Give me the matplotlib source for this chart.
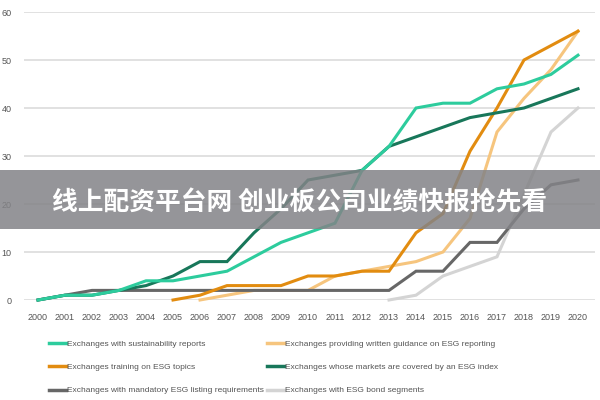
import matplotlib.pyplot as plt
import numpy as np
from matplotlib.patches import Rectangle

years = list(range(2000, 2021))
nan = np.nan

# values
sustainability = [0, 1, 1, 2, 4, 4, 5, 6, 9, 12, 14, 16, 27, 32, 40, 41, 41, 44, 45, 47, 51]
guidance = [nan, nan, nan, nan, nan, nan, 0, 1, 2, 2, 2, 5, 6, 7, 8, 10, 17, 35, 42, 48, 56]
training = [nan, nan, nan, nan, nan, 0, 1, 3, 3, 3, 5, 5, 6, 6, 14, 18, 31, 40, 50, 53, 56]
esg_index = [0, 1, 1, 2, 3, 5, 8, 8, 14, 19, 25, 26, 27, 32, 34, 36, 38, 39, 40, 42, 44]
mandatory = [0, 1, 2, 2, 2, 2, 2, 2, 2, 2, 2, 2, 2, 2, 6, 6, 12, 12, 19, 24, 25]
bonds = [nan, nan, nan, nan, nan, nan, nan, nan, nan, nan, nan, nan, nan, 0, 1, 5, 7, 9, 22, 35, 40]

series = [
    ("Exchanges with sustainability reports", sustainability, "#2dcc9d"),
    ("Exchanges training on ESG topics", training, "#e28c10"),
    ("Exchanges with mandatory ESG listing requirements", mandatory, "#676767"),
    ("Exchanges providing written guidance on ESG reporting", guidance, "#f6c57e"),
    ("Exchanges whose markets are covered by an ESG index", esg_index, "#18775a"),
    ("Exchanges with ESG bond segments", bonds, "#d4d4d4"),
]
draw_order = [5, 3, 2, 1, 4, 0]

banner_text = "线上配资平台网 创业板公司业绩快报抢先看"

narrow = ["Liberation Sans Narrow", "Liberation Sans", "DejaVu Sans"]

fig = plt.figure(figsize=(6, 4), dpi=100)
ax = fig.add_axes([24 / 600, 0.25, 571 / 600, 0.72])

lines = {}
for i in draw_order:
    label, vals, color = series[i]
    (ln,) = ax.plot(years, vals, color=color, lw=2.2, label=label, clip_on=False,
                    solid_joinstyle="miter", zorder=3)
    lines[i] = ln

ax.set_xlim(1999.48, 2020.63)
ax.set_ylim(0, 60)
ax.set_xticks(years)
ax.set_yticks(range(0, 61, 10))
ax.grid(axis="y", color="#dcdcdc", lw=1.2, zorder=0)
ax.set_axisbelow(True)
for s in ax.spines.values():
    s.set_visible(False)
ax.tick_params(length=0, labelsize=6.5, colors="#555555")
ax.tick_params(axis="x", pad=9)
ax.tick_params(axis="y", pad=9)
for t in ax.get_xticklabels() + ax.get_yticklabels():
    t.set_family(narrow)

# legend: two columns placed separately
for col, x0 in ((0, 45), (1, 263)):
    idx = [col * 3 + k for k in range(3)]
    leg = fig.legend([lines[i] for i in idx], [series[i][0] for i in idx],
                     loc="upper left", bbox_to_anchor=(x0 / 600, 1 - 336 / 400),
                     frameon=False, handlelength=2.0, handletextpad=0.15,
                     labelspacing=1.85, borderpad=0,
                     prop={"family": narrow, "size": 6})
    for t in leg.get_texts():
        t.set_color("#555555")
    for h in leg.get_lines():
        h.set_linewidth(2.5)

# grey banner with the overlay text
fig.patches.append(Rectangle((0, 1 - 229 / 400), 1, 59 / 400, transform=fig.transFigure,
                             facecolor="#838387", alpha=0.85, zorder=10))
fig.text(0.5, 1 - 203 / 400, banner_text, color="white", fontsize=18.5, fontweight="bold",
         ha="center", va="center", family=["Noto Sans CJK SC", "DejaVu Sans"], zorder=11)

fig.savefig("out.png", dpi=100)
